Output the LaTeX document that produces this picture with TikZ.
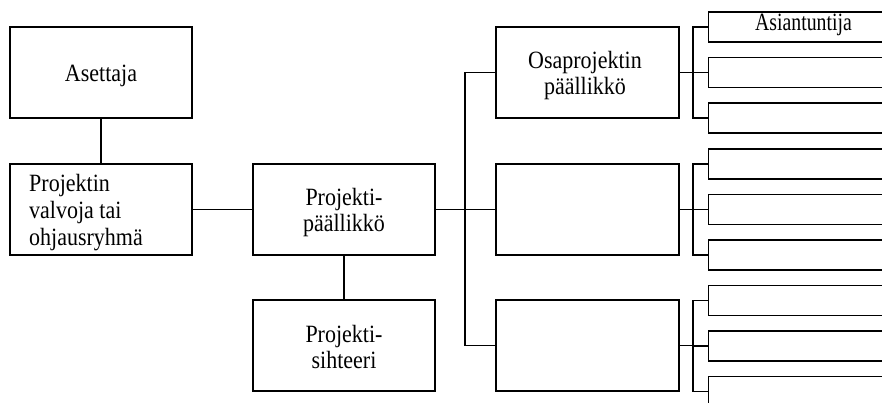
\documentclass[tikz,border=0pt]{standalone}
\usepackage{fontspec}
\usepackage{graphicx}
\setmainfont{Liberation Serif}
\newcommand\tallt[1]{\scalebox{1}[1.13]{#1}}
\begin{document}
\begin{tikzpicture}[x=1pt,y=-1pt,
  orgbox/.style={draw=black, line width=1.4pt, fill=white, inner sep=0pt,
    minimum width=182pt, minimum height=91pt},
  subbox/.style={draw=black, line width=1.4pt, fill=white, inner sep=0pt,
    minimum width=250pt, minimum height=30pt, anchor=west},
  link/.style={draw=black, line width=1.4pt},
  lbl/.style={inner sep=0pt, anchor=base, font=\fontsize{22}{26.5}\selectfont},
  lbll/.style={lbl, anchor=base west}]
\useasboundingbox (0,0) rectangle (882,403);
\clip (0,0) rectangle (882,403);

% main hierarchy
\node[orgbox] (ase) at (101,72.5) {};
\node[orgbox] (val) at (101,209.5) {};
\node[orgbox] (pp)  at (344,209.5) {};
\node[orgbox] (sih) at (344,345.5) {};
\node[orgbox, minimum width=183pt] (osa) at (587.5,72.5) {};
\node[orgbox, minimum width=183pt] (m2)  at (587.5,209.5) {};
\node[orgbox, minimum width=183pt] (m3)  at (587.5,345.5) {};

% sub-level boxes (run past the right edge)
\node[subbox] (s11) at (708,27) {};
\node[subbox] (s12) at (708,72.5) {};
\node[subbox] (s13) at (708,118) {};
\node[subbox] (s21) at (708,164) {};
\node[subbox] (s22) at (708,209.5) {};
\node[subbox] (s23) at (708,255) {};
\node[subbox] (s31) at (708,300.5) {};
\node[subbox] (s32) at (708,346) {};
\node[subbox] (s33) at (708,391.5) {};

% bus positions
\coordinate (busa) at (465,0);
\coordinate (busb) at (693,0);

% connectors
\draw[link] (ase.south) -- (val.north);
\draw[link] (val.east) -- (pp.west);
\draw[link] (pp.south) -- (sih.north);
\draw[link] (pp.east) -- (m2.west);
\draw[link] (osa.west) -- (osa.west -| busa) -- (m3.west -| busa) -- (m3.west);

\foreach \g/\a/\b/\c in {osa/s11/s12/s13, m2/s21/s22/s23, m3/s31/s32/s33}{
  \draw[link] (\g.east) -- (\g.east -| busb);
  \draw[link] (\a.west) -- (\a.west -| busb) -- (\c.west -| busb) -- (\c.west);
  \draw[link] (\b.west -| busb) -- (\b.west);
}

% labels, one node per printed line
\node[lbl] (tase) at (101,81.5) {\tallt{Asettaja}};
\node[lbll] (tval1) at (29,192) {\tallt{Projektin}};
\node[lbll] (tval2) at (29,218.5) {\tallt{valvoja tai}};
\node[lbll] (tval3) at (29,245) {\tallt{ohjausryhmä}};
\node[lbl] (tpp1) at (344,205.7) {\tallt{Projekti-}};
\node[lbl] (tpp2) at (344,231.9) {\tallt{päällikkö}};
\node[lbl] (tsih1) at (344,342.7) {\tallt{Projekti-}};
\node[lbl] (tsih2) at (344,368.7) {\tallt{sihteeri}};
\node[lbl] (tosa1) at (585,68.5) {\tallt{Osaprojektin}};
\node[lbl] (tosa2) at (585,95) {\tallt{päällikkö}};
\node[lbl] (tasi) at (803.5,31) {\scalebox{0.9}[1.13]{Asiantuntija}};
\end{tikzpicture}
\end{document}
